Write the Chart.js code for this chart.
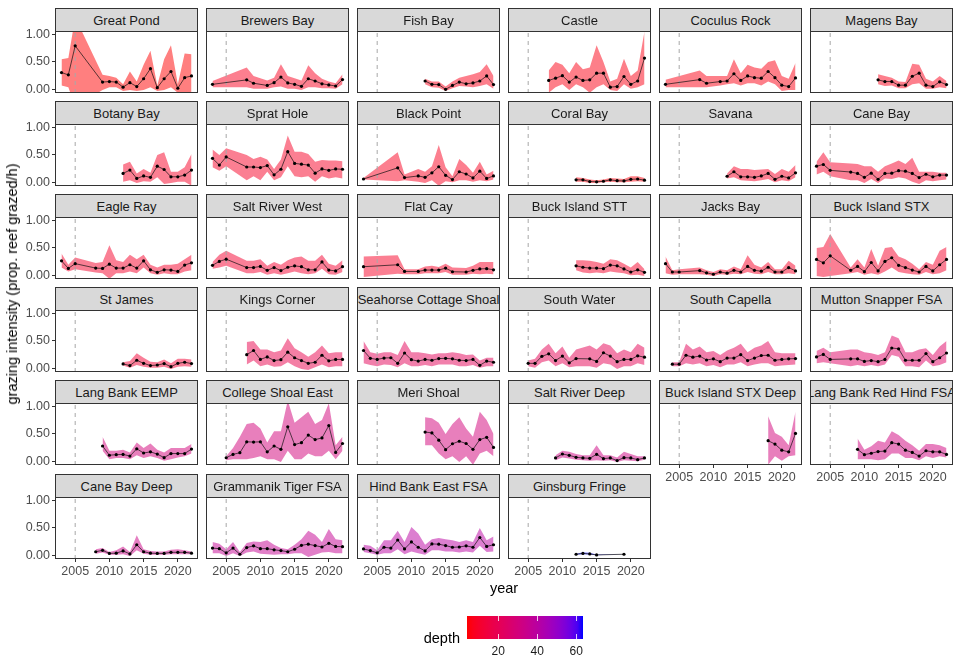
<!DOCTYPE html>
<html><head><meta charset="utf-8">
<script src="https://cdn.jsdelivr.net/npm/chart.js@4.4.1/dist/chart.umd.min.js"></script>
<style>
body{margin:0;background:#fff;width:960px;height:672px;position:relative;overflow:hidden;font-family:"Liberation Sans",Arial,Helvetica,sans-serif;}
.strip{position:absolute;box-sizing:border-box;background:#d9d9d9;border:1px solid #333;display:flex;align-items:center;justify-content:center;overflow:hidden;white-space:nowrap;font-size:13px;color:#1a1a1a;}
.frame{position:absolute;box-sizing:border-box;border:1px solid #333;pointer-events:none;}
.txt{position:absolute;white-space:nowrap;}
canvas{position:absolute;}
</style></head><body>
<script>
// ---------------- data ----------------
const sites = ["Great Pond","Brewers Bay","Fish Bay","Castle","Coculus Rock","Magens Bay",
"Botany Bay","Sprat Hole","Black Point","Coral Bay","Savana","Cane Bay",
"Eagle Ray","Salt River West","Flat Cay","Buck Island STT","Jacks Bay","Buck Island STX",
"St James","Kings Corner","Seahorse Cottage Shoal","South Water","South Capella","Mutton Snapper FSA",
"Lang Bank EEMP","College Shoal East","Meri Shoal","Salt River Deep","Buck Island STX Deep","Lang Bank Red Hind FSA",
"Cane Bay Deep","Grammanik Tiger FSA","Hind Bank East FSA","Ginsburg Fringe"];

const depths = [4,8,7,6,6,7, 9,9,8,5,9,10, 10,11,9,10,9,10, 12,18,21,20,21,24, 30,30,30,32,30,31, 33,36,40,63.5];

const yrsGP   = [2003,2004,2005,2009,2010,2011,2012,2013,2014,2015,2016,2017,2018,2019,2020,2021,2022];
const yrsB    = [2003,2008,2009,2011,2012,2013,2014,2015,2016,2017,2018,2019,2020,2021,2022];
const yrs12   = [2012,2013,2014,2015,2016,2017,2018,2019,2020,2021,2022];
const yrs08   = [2008,2009,2010,2011,2012,2013,2014,2015,2016,2017,2018,2019,2020,2021,2022];
const yrs09   = [2009,2010,2011,2012,2013,2014,2015,2016,2017,2018,2019,2020,2021,2022];
const yrsGap  = [2003,2004,2005,2008,2009,2010,2011,2012,2013,2014,2015,2016,2017,2018,2019,2020,2021,2022];
const yrsAll  = [2003,2004,2005,2006,2007,2008,2009,2010,2011,2012,2013,2014,2015,2016,2017,2018,2019,2020,2021,2022];
const yrsFC   = [2003,2008,2009,2011,2012,2013,2014,2015,2016,2018,2019,2020,2021,2022];
const yrsSW   = [2005,2006,2007,2008,2009,2010,2011,2012,2014,2015,2016,2017,2018,2019,2020,2021,2022];
const yrsSC   = [2004,2005,2006,2007,2008,2009,2010,2011,2012,2013,2014,2015,2016,2017,2018,2019,2020,2021,2022];
const yrsCSE  = [2005,2006,2007,2008,2009,2010,2011,2012,2013,2014,2015,2016,2017,2018,2019,2020,2021,2022];
const yrsBXD  = [2018,2019,2020,2021,2022];
const yrsGF   = [2012,2013,2014,2015,2019];

const years = [yrsGP,yrsB,yrs12,yrs08,yrsB,yrs12,
 yrs12,yrsGap,yrsB,yrs12,yrs12,yrsGap,
 yrsGap,yrsGap,yrsFC,yrs12,yrsGap,yrsGap,
 yrs12,yrs08,yrsAll,yrsSW,yrsSC,yrsGap,
 yrs09,yrsCSE,yrs12,yrs09,yrsBXD,yrs09,
 yrs08,yrsAll,yrsAll,yrsGF];

const means = [
[0.31,0.27,0.79,0.14,0.15,0.14,0.05,0.13,0.06,0.20,0.38,0.04,0.20,0.33,0.03,0.22,0.25],
[0.10,0.18,0.12,0.08,0.13,0.23,0.125,0.10,0.065,0.20,0.16,0.11,0.09,0.07,0.185],
[0.16,0.10,0.095,0.01,0.08,0.14,0.11,0.125,0.16,0.25,0.095],
[0.17,0.21,0.255,0.14,0.23,0.17,0.18,0.30,0.30,0.05,0.06,0.24,0.10,0.16,0.57],
[0.10,0.185,0.12,0.15,0.16,0.29,0.17,0.25,0.22,0.21,0.33,0.22,0.085,0.06,0.215],
[0.18,0.15,0.15,0.085,0.085,0.245,0.30,0.085,0.06,0.145,0.095],
[0.17,0.23,0.08,0.125,0.10,0.30,0.24,0.11,0.11,0.14,0.23],
[0.44,0.32,0.465,0.285,0.285,0.275,0.31,0.145,0.245,0.56,0.35,0.335,0.32,0.175,0.25,0.225,0.25,0.245],
[0.07,0.27,0.095,0.125,0.10,0.18,0.29,0.137,0.06,0.20,0.16,0.09,0.21,0.08,0.125],
[0.055,0.055,0.025,0.02,0.03,0.055,0.04,0.035,0.065,0.07,0.05],
[0.12,0.20,0.11,0.11,0.10,0.125,0.17,0.065,0.12,0.09,0.18],
[0.30,0.33,0.225,0.195,0.17,0.10,0.175,0.065,0.17,0.175,0.22,0.21,0.17,0.095,0.155,0.11,0.14,0.14],
[0.27,0.135,0.22,0.14,0.135,0.21,0.14,0.14,0.20,0.14,0.27,0.11,0.065,0.11,0.105,0.08,0.195,0.235],
[0.19,0.26,0.30,0.15,0.15,0.17,0.10,0.15,0.095,0.155,0.18,0.165,0.11,0.11,0.25,0.105,0.09,0.165],
[0.165,0.20,0.08,0.08,0.105,0.105,0.105,0.14,0.075,0.07,0.10,0.125,0.13,0.11],
[0.18,0.155,0.14,0.14,0.13,0.195,0.18,0.125,0.07,0.11,0.065],
[0.22,0.07,0.07,0.095,0.055,0.03,0.07,0.05,0.10,0.07,0.17,0.10,0.085,0.155,0.07,0.07,0.15,0.09],
[0.295,0.235,0.36,0.10,0.17,0.077,0.24,0.09,0.26,0.325,0.19,0.15,0.105,0.07,0.17,0.09,0.20,0.295],
[0.09,0.06,0.155,0.10,0.06,0.07,0.095,0.04,0.10,0.12,0.095],
[0.255,0.33,0.17,0.215,0.15,0.165,0.30,0.20,0.15,0.10,0.12,0.245,0.145,0.17,0.17],
[0.33,0.19,0.17,0.195,0.20,0.10,0.285,0.165,0.14,0.17,0.155,0.185,0.19,0.18,0.155,0.15,0.17,0.065,0.14,0.12],
[0.10,0.10,0.225,0.27,0.15,0.23,0.11,0.185,0.18,0.135,0.29,0.23,0.13,0.17,0.17,0.235,0.21],
[0.085,0.085,0.245,0.21,0.23,0.16,0.18,0.13,0.195,0.195,0.255,0.15,0.195,0.24,0.245,0.155,0.17,0.18,0.185],
[0.215,0.26,0.17,0.18,0.18,0.135,0.15,0.13,0.17,0.375,0.36,0.155,0.155,0.155,0.275,0.13,0.20,0.285],
[0.285,0.12,0.13,0.135,0.105,0.235,0.16,0.18,0.14,0.077,0.15,0.15,0.15,0.23],
[0.075,0.135,0.165,0.36,0.355,0.36,0.18,0.285,0.225,0.63,0.31,0.345,0.48,0.40,0.43,0.65,0.17,0.33],
[0.535,0.52,0.39,0.22,0.325,0.37,0.33,0.225,0.40,0.44,0.26],
[0.071,0.142,0.118,0.083,0.071,0.065,0.136,0.059,0.071,0.024,0.077,0.071,0.041,0.071],
[0.38,0.32,0.21,0.18,0.51],
[0.225,0.13,0.155,0.185,0.195,0.345,0.32,0.21,0.17,0.105,0.20,0.18,0.18,0.135],
[0.075,0.10,0.045,0.05,0.09,0.035,0.20,0.075,0.05,0.045,0.045,0.065,0.065,0.065,0.05],
[0.14,0.13,0.055,0.14,0.03,0.15,0.18,0.13,0.13,0.11,0.095,0.075,0.12,0.19,0.21,0.185,0.16,0.225,0.17,0.165],
[0.125,0.095,0.055,0.155,0.14,0.285,0.125,0.25,0.155,0.09,0.215,0.21,0.185,0.155,0.16,0.18,0.155,0.33,0.17,0.20],
[0.03,0.045,0.035,0.018,0.03]];

const lowers = [
[0.08,0.05,-0.3,0.0,0.05,0.05,-0.02,0.0,-0.02,0.0,0.05,-0.02,0.0,0.05,-0.05,-0.05,-0.05],
[0.05,0.05,0.02,0.02,0.05,0.06,0.02,0.02,0.0,0.05,0.05,0.03,0.03,0.02,0.1],
[0.1,0.05,0.04,-0.02,0.03,0.07,0.06,0.05,0.07,0.1,0.02],
[-0.05,0.05,0.1,0.0,0.1,0.05,-0.05,0.05,0.1,0.0,-0.02,0.1,0.02,0.05,0.1],
[0.05,0.05,0.05,0.08,0.1,0.12,0.08,0.12,0.12,0.08,0.15,0.1,-0.02,0.0,0.0],
[0.1,0.07,0.08,0.03,0.03,0.1,0.12,0.02,0.02,0.05,0.03],
[0.02,0.05,0.0,0.03,0.02,0.1,-0.02,0.0,0.02,0.02,-0.05],
[0.28,0.22,0.3,0.05,0.12,0.05,0.2,0.05,0.1,0.3,0.12,0.1,0.12,0.02,0.12,0.08,0.1,0.08],
[0.06,0.03,0.05,0.02,0.0,0.05,-0.05,0.03,0.01,0.05,0.05,0.02,0.05,0.03,0.06],
[0.02,0.02,0.0,0.0,0.01,0.02,0.01,0.01,0.02,0.03,0.02],
[0.08,0.1,0.05,0.04,0.03,0.05,0.07,0.01,0.05,0.03,0.1],
[0.15,0.2,0.12,0.05,0.05,0.0,0.07,0.0,0.08,0.07,0.1,0.08,0.02,-0.02,0.05,0.03,0.05,0.06],
[0.15,0.08,0.12,0.06,0.05,-0.05,0.05,0.05,0.08,0.05,0.15,0.05,0.02,0.05,0.03,0.03,0.08,0.1],
[0.13,0.15,0.18,0.05,0.05,0.07,0.02,0.05,0.02,0.05,0.08,0.05,0.03,0.05,0.13,0.03,0.02,0.07],
[-0.02,0.04,0.03,0.03,0.05,0.05,0.05,0.07,0.02,0.02,0.04,0.03,0.04,0.03],
[0.1,0.06,0.05,0.06,0.05,0.08,0.06,0.05,0.01,0.02,0.0],
[0.05,0.02,0.03,0.03,0.02,0.0,0.03,0.02,0.04,0.03,0.07,0.04,0.03,0.07,0.03,0.03,0.05,0.03],
[0.0,-0.02,0.0,0.05,0.07,0.02,0.05,0.02,0.08,0.15,0.07,0.05,0.03,0.02,0.07,0.03,0.05,0.1],
[0.06,0.02,0.07,0.04,0.02,0.02,0.04,0.0,0.04,0.05,0.04],
[0.08,0.15,0.05,0.08,0.04,0.05,0.12,0.05,0.0,-0.02,0.03,0.08,0.03,0.05,0.05],
[0.1,0.07,0.05,0.08,0.07,0.03,0.1,0.05,0.05,0.07,0.05,0.08,0.08,0.08,0.05,0.05,0.07,0.02,0.05,0.05],
[0.05,0.02,0.12,0.15,0.05,0.1,0.03,0.05,0.05,0.02,0.1,0.08,0.0,0.05,0.05,0.1,0.07],
[0.05,0.05,0.1,0.08,0.1,0.05,0.07,0.03,0.08,0.08,0.12,0.05,0.08,0.1,0.1,0.05,0.06,0.07,0.08],
[0.1,0.12,0.1,0.05,0.07,0.05,0.07,0.05,0.08,0.25,0.22,0.05,0.05,0.03,0.15,0.05,0.07,0.12],
[0.2,0.05,0.07,0.07,0.05,0.12,0.07,0.1,0.07,0.02,0.05,0.08,0.1,0.15],
[0.03,0.05,0.05,0.05,0.07,0.1,0.05,0.05,0.0,0.2,0.05,0.05,0.15,0.1,0.1,0.2,0.05,0.2],
[0.3,0.3,0.15,0.05,0.1,0.0,0.1,-0.05,0.15,0.2,0.1],
[0.03,0.08,0.06,0.04,0.03,0.02,0.03,0.02,0.03,0.0,0.03,0.02,0.01,0.04],
[-0.05,0.1,0.02,0.1,0.12],
[0.05,0.05,0.05,0.03,0.05,0.15,0.15,0.07,0.07,0.03,0.1,0.07,0.1,0.08],
[0.04,0.06,0.02,0.02,0.03,0.0,0.1,0.04,0.02,0.02,0.02,0.03,0.03,0.03,0.03],
[0.05,0.05,0.0,0.05,0.0,0.06,0.08,0.04,0.03,0.02,0.03,0.03,0.05,0.05,-0.02,0.02,0.06,0.07,0.05,0.05],
[0.07,0.05,0.02,0.05,0.05,0.12,0.03,0.08,0.05,0.02,0.1,0.1,0.08,0.08,0.06,0.08,0.06,0.18,0.07,0.08],
[0.02,0.03,0.02,0.01,0.03]];

const uppers = [
[0.55,0.57,1.3,0.27,0.25,0.22,0.1,0.33,0.15,0.45,0.7,0.08,0.55,0.8,0.1,0.65,0.64],
[0.16,0.40,0.25,0.17,0.22,0.46,0.25,0.21,0.17,0.44,0.30,0.2,0.15,0.12,0.28],
[0.2,0.15,0.15,0.06,0.15,0.22,0.25,0.28,0.32,0.46,0.25],
[0.35,0.5,0.45,0.3,0.5,0.37,0.4,0.8,0.5,0.15,0.2,0.56,0.25,0.35,1.05],
[0.18,0.35,0.25,0.25,0.25,0.55,0.3,0.45,0.4,0.38,0.5,0.53,0.25,0.2,0.48],
[0.28,0.25,0.22,0.15,0.14,0.47,0.45,0.2,0.15,0.25,0.16],
[0.33,0.38,0.17,0.25,0.18,0.5,0.55,0.2,0.2,0.28,0.52],
[0.6,0.5,0.62,0.5,0.43,0.47,0.42,0.25,0.42,0.85,0.56,0.56,0.52,0.38,0.41,0.4,0.4,0.39],
[0.09,0.55,0.15,0.25,0.2,0.3,0.68,0.28,0.12,0.43,0.32,0.18,0.38,0.15,0.22],
[0.1,0.09,0.06,0.05,0.06,0.09,0.08,0.07,0.12,0.12,0.09],
[0.17,0.3,0.25,0.25,0.23,0.24,0.25,0.16,0.25,0.2,0.32],
[0.38,0.55,0.37,0.35,0.34,0.3,0.3,0.2,0.3,0.35,0.4,0.34,0.45,0.2,0.2,0.2,0.18,0.18],
[0.4,0.2,0.33,0.23,0.25,0.55,0.28,0.25,0.38,0.3,0.38,0.2,0.15,0.2,0.2,0.22,0.3,0.38],
[0.25,0.38,0.45,0.27,0.27,0.3,0.18,0.25,0.2,0.28,0.33,0.35,0.27,0.27,0.38,0.22,0.18,0.28],
[0.35,0.37,0.12,0.12,0.17,0.18,0.16,0.22,0.15,0.14,0.18,0.25,0.25,0.25],
[0.28,0.28,0.27,0.25,0.22,0.3,0.28,0.22,0.15,0.25,0.12],
[0.35,0.1,0.12,0.15,0.1,0.07,0.12,0.1,0.17,0.12,0.37,0.2,0.15,0.25,0.12,0.12,0.27,0.18],
[0.5,0.52,0.75,0.15,0.3,0.15,0.48,0.18,0.5,0.52,0.35,0.3,0.22,0.12,0.25,0.2,0.45,0.52],
[0.12,0.14,0.28,0.2,0.13,0.12,0.17,0.1,0.18,0.18,0.17],
[0.48,0.5,0.35,0.35,0.3,0.33,0.55,0.37,0.3,0.22,0.3,0.42,0.28,0.3,0.3],
[0.5,0.3,0.27,0.3,0.3,0.25,0.5,0.3,0.3,0.28,0.26,0.28,0.28,0.3,0.28,0.25,0.26,0.15,0.2,0.2],
[0.15,0.18,0.35,0.45,0.28,0.4,0.2,0.35,0.42,0.35,0.46,0.42,0.28,0.35,0.3,0.45,0.38],
[0.12,0.12,0.45,0.35,0.4,0.3,0.32,0.25,0.33,0.38,0.45,0.3,0.38,0.42,0.5,0.3,0.28,0.28,0.28],
[0.32,0.38,0.3,0.35,0.35,0.3,0.28,0.25,0.3,0.6,0.55,0.3,0.3,0.35,0.37,0.25,0.4,0.5],
[0.45,0.2,0.2,0.22,0.17,0.35,0.25,0.33,0.22,0.17,0.25,0.25,0.25,0.32],
[0.1,0.25,0.45,0.68,0.7,0.6,0.35,0.55,0.55,1.1,0.7,0.8,0.9,0.68,0.75,1.05,0.3,0.45],
[0.8,0.78,0.7,0.5,0.68,0.8,0.6,0.45,0.9,0.75,0.5],
[0.12,0.2,0.18,0.14,0.12,0.12,0.3,0.12,0.12,0.08,0.18,0.14,0.1,0.1],
[0.82,0.52,0.45,0.3,0.9],
[0.42,0.22,0.28,0.38,0.35,0.55,0.48,0.38,0.3,0.2,0.32,0.32,0.3,0.25],
[0.12,0.14,0.07,0.1,0.17,0.07,0.37,0.12,0.09,0.08,0.08,0.11,0.12,0.1,0.08],
[0.25,0.22,0.12,0.25,0.07,0.23,0.26,0.25,0.28,0.2,0.14,0.12,0.2,0.3,0.45,0.38,0.25,0.48,0.3,0.28],
[0.2,0.18,0.1,0.28,0.28,0.45,0.25,0.52,0.4,0.2,0.3,0.32,0.3,0.28,0.25,0.28,0.25,0.5,0.28,0.35],
[0.04,0.065,0.055,0.025,0.03]];

const refYear = 2005;
const xTickValues = [2005,2010,2015,2020];
const yTickValues = [0,0.25,0.5,0.75,1];
const depthTickValues = [20,40,60];
const yTitle = "grazing intensity (prop. reef grazed/h)";
const xTitle = "year";
const legendTitle = "depth";

// ---------------- colour scale (red -> blue in Lab) ----------------
function toLab(c){const f=v=>{v/=255;return v<=0.04045?v/12.92:Math.pow((v+0.055)/1.055,2.4)};
 const R=f(c[0]),G=f(c[1]),B=f(c[2]);
 const X=(0.4124564*R+0.3575761*G+0.1804375*B)/0.95047,Y=0.2126729*R+0.7151522*G+0.0721750*B,Z=(0.0193339*R+0.1191920*G+0.9503041*B)/1.08883;
 const h=t=>t>0.008856?Math.cbrt(t):7.787*t+16/116;const fx=h(X),fy=h(Y),fz=h(Z);
 return [116*fy-16,500*(fx-fy),200*(fy-fz)];}
function fromLab(l){const fy=(l[0]+16)/116,fx=fy+l[1]/500,fz=fy-l[2]/200;
 const hi=t=>{const t3=t*t*t;return t3>0.008856?t3:(t-16/116)/7.787};
 const X=hi(fx)*0.95047,Y=hi(fy),Z=hi(fz)*1.08883;
 const R=3.2404542*X-1.5371385*Y-0.4985314*Z,G=-0.9692660*X+1.8760108*Y+0.0415560*Z,B=0.0556434*X-0.2040259*Y+1.0572252*Z;
 const g=v=>{v=Math.max(0,Math.min(1,v));return Math.round(255*(v<=0.0031308?12.92*v:1.055*Math.pow(v,1/2.4)-0.055))};
 return [g(R),g(G),g(B)];}
const labLow=toLab([255,0,0]), labHigh=toLab([0,0,255]);
const dMin=Math.min(...depths), dMax=Math.max(...depths);
function depthColor(d){const t=Math.max(0,Math.min(1,(d-dMin)/(dMax-dMin)));
 return fromLab([0,1,2].map(k=>labLow[k]+(labHigh[k]-labLow[k])*t));}

// ---------------- layout ----------------
const FONT='"Liberation Sans", Arial, Helvetica, sans-serif';
const COL0=55, COLSTEP=151, PW=143, PH=62, STRIPH=23, ROW0=8, ROWSTEP=93.1;
const PAD=8, YAXW=40, XAXH=22;
const X_MIN=2002.05, X_MAX=2022.95, Y_MIN=-0.055, Y_MAX=1.055;

const body=document.body;
function el(tag,cls,style,text){const e=document.createElement(tag);if(cls)e.className=cls;Object.assign(e.style,style);if(text!==undefined)e.textContent=text;body.appendChild(e);return e;}

const frames=[];
sites.forEach((name,i)=>{
  const col=i%6,row=Math.floor(i/6);
  const left=COL0+COLSTEP*col, top=ROW0+Math.round(ROWSTEP*row);
  const plotTop=top+STRIPH;
  const showY=col===0;
  const showX=row===5||(row===4&&col>=4);
  el('div','strip',{left:left+'px',top:top+'px',width:PW+'px',height:(STRIPH+1)+'px'},name);
  const cw=PW+2*PAD+(showY?YAXW:0), ch=PH+2*PAD+(showX?XAXH:0);
  const cv=el('canvas','',{left:(left-PAD-(showY?YAXW:0))+'px',top:(plotTop-PAD)+'px',width:cw+'px',height:ch+'px'});
  cv.width=cw;cv.height=ch;
  frames.push({left,top:plotTop});
  const n=Math.min(years[i].length,means[i].length,lowers[i].length,uppers[i].length);
  const yr=years[i].slice(0,n);
  const rgb=depthColor(depths[i]);
  const fill=`rgba(${rgb[0]},${rgb[1]},${rgb[2]},0.5)`;
  const tickFont={family:FONT,size:12.5};
  new Chart(cv,{
    type:'line',
    data:{datasets:[
      {data:yr.map((x,k)=>({x,y:uppers[i][k]})),borderWidth:0,pointRadius:0,fill:'+1',backgroundColor:fill,tension:0,order:3},
      {data:yr.map((x,k)=>({x,y:lowers[i][k]})),borderWidth:0,pointRadius:0,fill:false,tension:0,order:3},
      {data:[{x:refYear,y:Y_MIN},{x:refYear,y:Y_MAX}],borderColor:'#a8a8a8',borderWidth:1,borderDash:[4,4],pointRadius:0,fill:false,order:2},
      {data:yr.map((x,k)=>({x,y:means[i][k]})),borderColor:'#111',borderWidth:0.7,pointRadius:1.6,pointBackgroundColor:'#000',pointBorderWidth:0,fill:false,tension:0,order:1}
    ]},
    options:{
      responsive:false,animation:false,devicePixelRatio:1,
      layout:{padding:PAD,autoPadding:false},
      plugins:{legend:{display:false},tooltip:{enabled:false}},
      events:[],
      scales:{
        x:{type:'linear',min:X_MIN,max:X_MAX,display:showX,
           grid:{display:true,drawOnChartArea:false,drawTicks:true,tickLength:3,color:'#333'},
           border:{display:false},
           ticks:{font:tickFont,color:'#4d4d4d',padding:2.5,maxRotation:0,autoSkip:false,callback:v=>String(v)},
           afterBuildTicks:s=>{s.ticks=xTickValues.map(v=>({value:v}));},
           afterFit:s=>{s.height=showX?XAXH:0;s.paddingLeft=0;s.paddingRight=0;s.paddingTop=0;s.paddingBottom=0;}},
        y:{type:'linear',min:Y_MIN,max:Y_MAX,display:showY,
           grid:{display:true,drawOnChartArea:false,drawTicks:true,tickLength:3,color:'#333'},
           border:{display:false},
           ticks:{font:tickFont,color:'#4d4d4d',padding:2,callback:v=>Number(v).toFixed(2)},
           afterBuildTicks:s=>{s.ticks=yTickValues.map(v=>({value:v}));},
           afterFit:s=>{s.width=showY?YAXW:0;s.paddingTop=0;s.paddingBottom=0;s.paddingLeft=0;s.paddingRight=0;}}
      }
    }
  });
});
frames.forEach(f=>el('div','frame',{left:f.left+'px',top:f.top+'px',width:PW+'px',height:PH+'px'}));

// axis titles
el('div','txt',{left:'12px',top:'284px',fontSize:'14.5px',color:'#000',transform:'translate(-50%,-50%) rotate(-90deg)'},yTitle);
const panelsCenter=COL0+(COLSTEP*5+PW)/2;
el('div','txt',{left:panelsCenter+'px',top:'588px',fontSize:'14.5px',color:'#000',transform:'translate(-50%,-50%)'},xTitle);

// colour bar legend
const BAR_L=467, BAR_T=616, BAR_W=116, BAR_H=23;
const stops=[];for(let k=0;k<=20;k++){const d=dMin+(dMax-dMin)*k/20;const c=depthColor(d);stops.push(`rgb(${c[0]},${c[1]},${c[2]}) ${k*5}%`);}
el('div','',{position:'absolute',left:BAR_L+'px',top:BAR_T+'px',width:BAR_W+'px',height:BAR_H+'px',background:`linear-gradient(to right, ${stops.join(',')})`});
depthTickValues.forEach(v=>{
  const x=BAR_L+(v-dMin)/(dMax-dMin)*BAR_W;
  el('div','',{position:'absolute',left:(x-0.5)+'px',top:BAR_T+'px',width:'1px',height:'5px',background:'rgba(255,255,255,0.8)'});
  el('div','',{position:'absolute',left:(x-0.5)+'px',top:(BAR_T+BAR_H-5)+'px',width:'1px',height:'5px',background:'rgba(255,255,255,0.8)'});
  el('div','txt',{left:x+'px',top:'651px',fontSize:'12px',color:'#1a1a1a',transform:'translate(-50%,-50%)'},String(v));
});
el('div','txt',{left:'460px',top:'638px',fontSize:'14.5px',color:'#000',transform:'translate(-100%,-50%)'},legendTitle);
</script>
</body></html>
